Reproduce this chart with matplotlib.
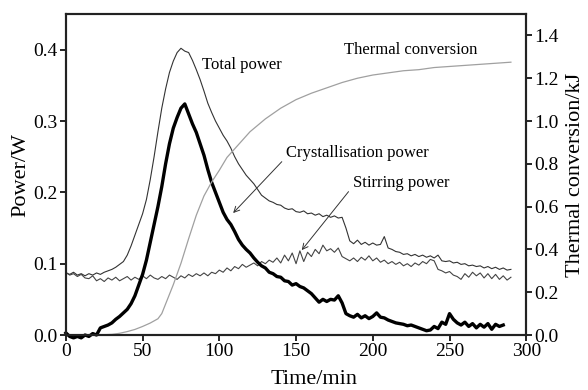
import matplotlib
matplotlib.use("Agg")
import matplotlib.pyplot as plt

plt.rcParams['font.family'] = ['Liberation Serif', 'DejaVu Serif']

# time grids (min)
t_power = [i * 2.5 for i in range(117)]      # 0 .. 290
t_cryst = [i * 2.5 for i in range(115)]      # 0 .. 285

total_power = [
    0.087, 0.085, 0.088, 0.084, 0.086, 0.083, 0.086, 0.084, 0.087, 0.085,
    0.088, 0.090, 0.092, 0.095, 0.099, 0.103, 0.112, 0.125, 0.140, 0.155,
    0.170, 0.190, 0.218, 0.250, 0.285, 0.318, 0.345, 0.368, 0.384, 0.396,
    0.402, 0.398, 0.396, 0.385, 0.372, 0.358, 0.342, 0.325, 0.312, 0.300,
    0.290, 0.280, 0.272, 0.262, 0.250, 0.240, 0.232, 0.224, 0.218, 0.212,
    0.204, 0.196, 0.192, 0.188, 0.186, 0.183, 0.182, 0.178, 0.176, 0.177,
    0.173, 0.172, 0.174, 0.170, 0.171, 0.168, 0.170, 0.166, 0.168, 0.165,
    0.167, 0.164, 0.165, 0.150, 0.132, 0.128, 0.133, 0.127, 0.130, 0.126,
    0.129, 0.126, 0.127, 0.138, 0.122, 0.120, 0.117, 0.116, 0.113, 0.114,
    0.111, 0.113, 0.110, 0.112, 0.109, 0.111, 0.108, 0.112, 0.104, 0.103,
    0.104, 0.101, 0.102, 0.099, 0.100, 0.097, 0.098, 0.096, 0.097, 0.094,
    0.096, 0.093, 0.095, 0.092, 0.094, 0.091, 0.092,
]

stirring_power = [
    0.088, 0.084, 0.086, 0.082, 0.085, 0.080, 0.079, 0.083, 0.076, 0.079,
    0.075, 0.080, 0.077, 0.081, 0.076, 0.079, 0.082, 0.077, 0.081, 0.078,
    0.083, 0.079, 0.084, 0.080, 0.078, 0.082, 0.079, 0.084, 0.081, 0.078,
    0.083, 0.080, 0.085, 0.082, 0.086, 0.083, 0.087, 0.083, 0.088, 0.086,
    0.091, 0.088, 0.094, 0.090, 0.096, 0.093, 0.099, 0.095, 0.098, 0.101,
    0.097, 0.103, 0.100, 0.105, 0.102, 0.108, 0.101, 0.112, 0.104, 0.115,
    0.100, 0.118, 0.103, 0.116, 0.110, 0.120, 0.114, 0.126, 0.118, 0.121,
    0.116, 0.122, 0.110, 0.107, 0.104, 0.108, 0.103, 0.109, 0.105, 0.111,
    0.104, 0.108, 0.102, 0.105, 0.100, 0.103, 0.099, 0.102, 0.097, 0.100,
    0.096, 0.101, 0.098, 0.103, 0.100, 0.106, 0.104, 0.092, 0.090, 0.087,
    0.089, 0.084, 0.082, 0.078, 0.086, 0.081, 0.088, 0.083, 0.087, 0.080,
    0.086, 0.079, 0.085, 0.078, 0.083, 0.077, 0.081,
]

cryst_power = [
    0.003, -0.002, -0.004, -0.002, -0.004, 0.000, -0.002, 0.002, 0.000, 0.010,
    0.012, 0.014, 0.017, 0.022, 0.026, 0.031, 0.036, 0.044, 0.055, 0.070,
    0.085, 0.105, 0.130, 0.155, 0.180, 0.208, 0.240, 0.268, 0.290, 0.305,
    0.318, 0.324, 0.310, 0.296, 0.284, 0.268, 0.252, 0.232, 0.214, 0.200,
    0.186, 0.172, 0.162, 0.155, 0.145, 0.134, 0.126, 0.120, 0.115, 0.108,
    0.102, 0.097, 0.094, 0.088, 0.086, 0.082, 0.081, 0.076, 0.075, 0.070,
    0.072, 0.068, 0.066, 0.062, 0.058, 0.052, 0.046, 0.050, 0.047, 0.050,
    0.049, 0.055, 0.045, 0.030, 0.027, 0.025, 0.029, 0.024, 0.027, 0.023,
    0.026, 0.031, 0.025, 0.024, 0.021, 0.019, 0.017, 0.016, 0.015, 0.013,
    0.014, 0.012, 0.010, 0.008, 0.006, 0.007, 0.012, 0.009, 0.018, 0.015,
    0.030, 0.022, 0.017, 0.014, 0.018, 0.012, 0.016, 0.010, 0.015, 0.011,
    0.016, 0.008, 0.015, 0.012, 0.014,
]

t_thermal = [0, 20, 30, 35, 40, 45, 50, 55, 60, 62.5, 65, 67.5, 70, 72.5,
             75, 80, 85, 90, 95, 100, 105, 110, 115, 120, 125, 130, 140, 150,
             160, 170, 180, 190, 200, 210, 220, 230, 240, 250, 260, 270, 280,
             290]
thermal = [0, 0, 0.003, 0.008, 0.016, 0.026, 0.040, 0.056, 0.076, 0.10,
           0.145, 0.19, 0.235, 0.285, 0.335, 0.45, 0.56, 0.65, 0.715, 0.77,
           0.83, 0.87, 0.91, 0.95, 0.98, 1.01, 1.06, 1.10, 1.13, 1.155, 1.18,
           1.20, 1.215, 1.225, 1.235, 1.24, 1.25, 1.255, 1.26, 1.265, 1.27,
           1.275]

fig = plt.figure(figsize=(5.88, 3.9), dpi=100)
ax = fig.add_axes([0.112, 0.141, 0.783, 0.823])
ax2 = ax.twinx()

ax.plot(t_power, total_power, color='#333333', lw=0.8)
ax.plot(t_power, stirring_power, color='#444444', lw=0.8)
ax.plot(t_cryst, cryst_power, color='black', lw=2.4, clip_on=False)
ax2.plot(t_thermal, thermal, color='#a0a0a0', lw=0.9)

ax.set_xlim(0, 300)
ax.set_ylim(0, 0.45)
ax2.set_ylim(0, 1.5)
ax.set_xticks([0, 50, 100, 150, 200, 250, 300])
ax.set_yticks([0.0, 0.1, 0.2, 0.3, 0.4])
ax2.set_yticks([0.0, 0.2, 0.4, 0.6, 0.8, 1.0, 1.2, 1.4])
ax.set_yticklabels(['0.0', '0.1', '0.2', '0.3', '0.4'])
ax2.set_yticklabels(['0.0', '0.2', '0.4', '0.6', '0.8', '1.0', '1.2', '1.4'])

for a in (ax, ax2):
    a.tick_params(labelsize=14, width=1.2, length=4, pad=2)
    for s in a.spines.values():
        s.set_linewidth(1.5)
        s.set_color('#222222')

ax.set_xlabel('Time/min', fontsize=16)
ax.xaxis.set_label_coords(0.54, -0.11)
ax.set_ylabel('Power/W', fontsize=16, labelpad=2)
ax2.set_ylabel('Thermal conversion/kJ', fontsize=16, labelpad=5)

ax.text(89, 0.379, 'Total power', fontsize=12, va='center')
ax.text(181, 0.400, 'Thermal conversion', fontsize=12, va='center')
ax.text(143.5, 0.255, 'Crystallisation power', fontsize=12, va='center')
ax.text(187, 0.213, 'Stirring power', fontsize=12, va='center')

arrow = dict(arrowstyle='->', color='#333333', lw=0.7, shrinkA=0, shrinkB=0)
ax.annotate('', xy=(109, 0.171), xytext=(140.7, 0.243), arrowprops=arrow)
ax.annotate('', xy=(153.7, 0.119), xytext=(184.2, 0.201), arrowprops=arrow)

fig.savefig('out.png', dpi=100)
